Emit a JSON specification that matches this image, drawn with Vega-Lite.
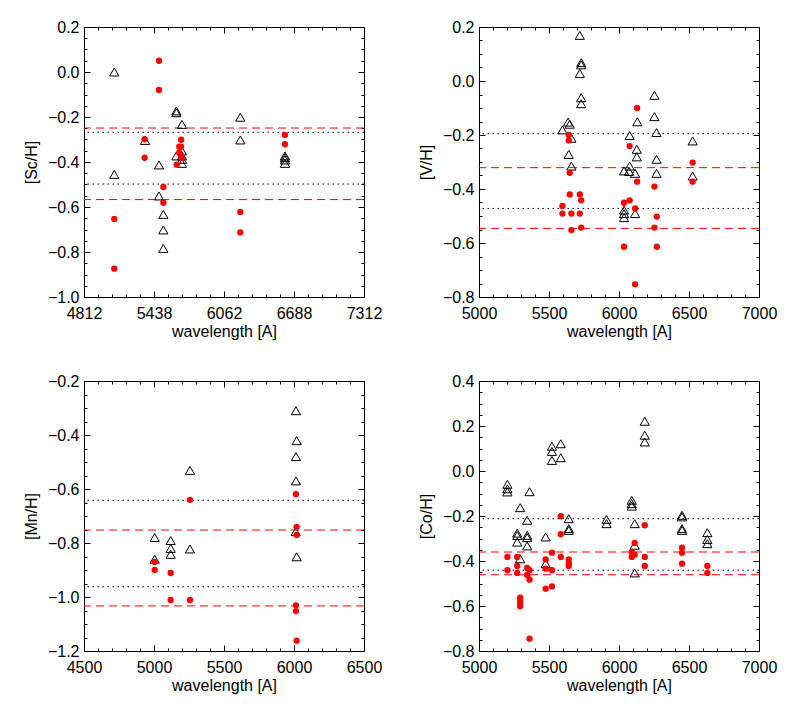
{
"$schema": "https://vega.github.io/schema/vega-lite/v6.json",
"padding": {"left": 22, "top": 18, "right": 5, "bottom": 5},
"background": "white",
"config": {
  "view": {"stroke": "black", "strokeWidth": 1},
  "axis": {"labelFont": "Liberation Sans", "labelFontSize": 16, "titleFont": "Liberation Sans", "titleFontSize": 16, "titleFontWeight": "normal", "labelColor": "black", "titleColor": "black", "tickColor": "black", "tickWidth": 1, "tickSize": -6, "labelPadding": 11, "labelFlush": false, "labelOverlap": false, "grid": false, "domain": false, "titlePadding": 8},
  "axisX": {"labelPadding": 14, "titlePadding": 2}
},
"datasets": {
"sc": [
{"wl":5083,"ab":0.0,"set":"A"},{"wl":5083,"ab":-0.455,"set":"A"},{"wl":5357,"ab":-0.304,"set":"A"},{"wl":5482,"ab":-0.413,"set":"A"},{"wl":5482,"ab":-0.551,"set":"A"},{"wl":5521,"ab":-0.633,"set":"A"},{"wl":5521,"ab":-0.702,"set":"A"},{"wl":5521,"ab":-0.784,"set":"A"},{"wl":5637,"ab":-0.173,"set":"A"},{"wl":5637,"ab":-0.181,"set":"A"},{"wl":5687,"ab":-0.233,"set":"A"},{"wl":5637,"ab":-0.373,"set":"A"},{"wl":5687,"ab":-0.351,"set":"A"},{"wl":5687,"ab":-0.373,"set":"A"},{"wl":5687,"ab":-0.388,"set":"A"},{"wl":5687,"ab":-0.406,"set":"A"},{"wl":6208,"ab":-0.201,"set":"A"},{"wl":6208,"ab":-0.302,"set":"A"},{"wl":6607,"ab":-0.373,"set":"A"},{"wl":6607,"ab":-0.381,"set":"A"},{"wl":6607,"ab":-0.391,"set":"A"},{"wl":6607,"ab":-0.406,"set":"A"},
{"wl":5083,"ab":-0.653,"set":"B"},{"wl":5083,"ab":-0.874,"set":"B"},{"wl":5354,"ab":-0.299,"set":"B"},{"wl":5354,"ab":-0.381,"set":"B"},{"wl":5482,"ab":0.05,"set":"B"},{"wl":5482,"ab":-0.08,"set":"B"},{"wl":5521,"ab":-0.511,"set":"B"},{"wl":5521,"ab":-0.581,"set":"B"},{"wl":5680,"ab":-0.301,"set":"B"},{"wl":5680,"ab":-0.332,"set":"B"},{"wl":5663,"ab":-0.332,"set":"B"},{"wl":5663,"ab":-0.359,"set":"B"},{"wl":5680,"ab":-0.373,"set":"B"},{"wl":5685,"ab":-0.382,"set":"B"},{"wl":5640,"ab":-0.412,"set":"B"},{"wl":6208,"ab":-0.622,"set":"B"},{"wl":6208,"ab":-0.713,"set":"B"},{"wl":6607,"ab":-0.28,"set":"B"},{"wl":6607,"ab":-0.321,"set":"B"}
],
"scl": [{"ab":-0.249,"set":"B"},{"ab":-0.268,"set":"A"},{"ab":-0.498,"set":"A"},{"ab":-0.567,"set":"B"}],
"v": [
{"wl":5720,"ab":0.169,"set":"A"},{"wl":5730,"ab":0.068,"set":"A"},{"wl":5730,"ab":0.06,"set":"A"},{"wl":5720,"ab":0.028,"set":"A"},{"wl":5730,"ab":-0.062,"set":"A"},{"wl":5730,"ab":-0.084,"set":"A"},{"wl":5636,"ab":-0.152,"set":"A"},{"wl":5648,"ab":-0.16,"set":"A"},{"wl":5596,"ab":-0.181,"set":"A"},{"wl":5660,"ab":-0.212,"set":"A"},{"wl":5641,"ab":-0.272,"set":"A"},{"wl":5660,"ab":-0.315,"set":"A"},{"wl":6076,"ab":-0.202,"set":"A"},{"wl":6036,"ab":-0.333,"set":"A"},{"wl":6076,"ab":-0.315,"set":"A"},{"wl":6072,"ab":-0.335,"set":"A"},{"wl":6115,"ab":-0.342,"set":"A"},{"wl":6127,"ab":-0.253,"set":"A"},{"wl":6127,"ab":-0.281,"set":"A"},{"wl":6131,"ab":-0.151,"set":"A"},{"wl":6036,"ab":-0.478,"set":"A"},{"wl":6036,"ab":-0.491,"set":"A"},{"wl":6036,"ab":-0.506,"set":"A"},{"wl":6115,"ab":-0.491,"set":"A"},{"wl":6253,"ab":-0.053,"set":"A"},{"wl":6253,"ab":-0.132,"set":"A"},{"wl":6268,"ab":-0.191,"set":"A"},{"wl":6268,"ab":-0.29,"set":"A"},{"wl":6268,"ab":-0.342,"set":"A"},{"wl":6526,"ab":-0.222,"set":"A"},{"wl":6526,"ab":-0.352,"set":"A"},
{"wl":5641,"ab":-0.2,"set":"B"},{"wl":5641,"ab":-0.22,"set":"B"},{"wl":5648,"ab":-0.34,"set":"B"},{"wl":5648,"ab":-0.42,"set":"B"},{"wl":5596,"ab":-0.463,"set":"B"},{"wl":5596,"ab":-0.491,"set":"B"},{"wl":5660,"ab":-0.491,"set":"B"},{"wl":5660,"ab":-0.552,"set":"B"},{"wl":5720,"ab":-0.42,"set":"B"},{"wl":5730,"ab":-0.442,"set":"B"},{"wl":5720,"ab":-0.491,"set":"B"},{"wl":5730,"ab":-0.543,"set":"B"},{"wl":6129,"ab":-0.1,"set":"B"},{"wl":6076,"ab":-0.241,"set":"B"},{"wl":6129,"ab":-0.373,"set":"B"},{"wl":6036,"ab":-0.451,"set":"B"},{"wl":6076,"ab":-0.442,"set":"B"},{"wl":6115,"ab":-0.472,"set":"B"},{"wl":6036,"ab":-0.614,"set":"B"},{"wl":6115,"ab":-0.753,"set":"B"},{"wl":6253,"ab":-0.391,"set":"B"},{"wl":6270,"ab":-0.502,"set":"B"},{"wl":6253,"ab":-0.543,"set":"B"},{"wl":6270,"ab":-0.614,"set":"B"},{"wl":6526,"ab":-0.302,"set":"B"},{"wl":6526,"ab":-0.373,"set":"B"}
],
"vl": [{"ab":-0.195,"set":"A"},{"ab":-0.321,"set":"B"},{"ab":-0.472,"set":"A"},{"ab":-0.546,"set":"B"}],
"mn": [
{"wl":6014,"ab":-0.31,"set":"A"},{"wl":6019,"ab":-0.421,"set":"A"},{"wl":6014,"ab":-0.48,"set":"A"},{"wl":6014,"ab":-0.57,"set":"A"},{"wl":6019,"ab":-0.851,"set":"A"},{"wl":6012,"ab":-0.758,"set":"A"},{"wl":5257,"ab":-0.531,"set":"A"},{"wl":5257,"ab":-0.822,"set":"A"},{"wl":5005,"ab":-0.78,"set":"A"},{"wl":5005,"ab":-0.86,"set":"A"},{"wl":5119,"ab":-0.791,"set":"A"},{"wl":5119,"ab":-0.82,"set":"A"},{"wl":5119,"ab":-0.842,"set":"A"},
{"wl":5005,"ab":-0.87,"set":"B"},{"wl":5005,"ab":-0.9,"set":"B"},{"wl":5119,"ab":-0.911,"set":"B"},{"wl":5119,"ab":-1.011,"set":"B"},{"wl":5257,"ab":-0.64,"set":"B"},{"wl":5257,"ab":-1.011,"set":"B"},{"wl":6014,"ab":-0.619,"set":"B"},{"wl":6019,"ab":-0.74,"set":"B"},{"wl":6019,"ab":-0.77,"set":"B"},{"wl":6014,"ab":-1.031,"set":"B"},{"wl":6014,"ab":-1.052,"set":"B"},{"wl":6019,"ab":-1.162,"set":"B"}
],
"mnl": [{"ab":-0.642,"set":"A"},{"ab":-0.752,"set":"B"},{"ab":-0.962,"set":"A"},{"ab":-1.033,"set":"B"}],
"co": [
{"wl":5203,"ab":-0.059,"set":"A"},{"wl":5203,"ab":-0.079,"set":"A"},{"wl":5203,"ab":-0.093,"set":"A"},{"wl":5294,"ab":-0.163,"set":"A"},{"wl":5273,"ab":-0.276,"set":"A"},{"wl":5273,"ab":-0.287,"set":"A"},{"wl":5273,"ab":-0.316,"set":"A"},{"wl":5294,"ab":-0.39,"set":"A"},{"wl":5344,"ab":-0.219,"set":"A"},{"wl":5344,"ab":-0.286,"set":"A"},{"wl":5344,"ab":-0.296,"set":"A"},{"wl":5344,"ab":-0.333,"set":"A"},{"wl":5361,"ab":-0.092,"set":"A"},{"wl":5476,"ab":-0.293,"set":"A"},{"wl":5476,"ab":-0.412,"set":"A"},{"wl":5521,"ab":0.11,"set":"A"},{"wl":5521,"ab":0.087,"set":"A"},{"wl":5521,"ab":0.047,"set":"A"},{"wl":5584,"ab":0.121,"set":"A"},{"wl":5584,"ab":0.059,"set":"A"},{"wl":5641,"ab":-0.212,"set":"A"},{"wl":5641,"ab":-0.256,"set":"A"},{"wl":5641,"ab":-0.264,"set":"A"},{"wl":5911,"ab":-0.215,"set":"A"},{"wl":5911,"ab":-0.234,"set":"A"},{"wl":6091,"ab":-0.13,"set":"A"},{"wl":6091,"ab":-0.145,"set":"A"},{"wl":6091,"ab":-0.156,"set":"A"},{"wl":6112,"ab":-0.234,"set":"A"},{"wl":6112,"ab":-0.33,"set":"A"},{"wl":6112,"ab":-0.453,"set":"A"},{"wl":6184,"ab":0.221,"set":"A"},{"wl":6184,"ab":0.159,"set":"A"},{"wl":6184,"ab":0.129,"set":"A"},{"wl":6450,"ab":-0.197,"set":"A"},{"wl":6450,"ab":-0.204,"set":"A"},{"wl":6450,"ab":-0.256,"set":"A"},{"wl":6450,"ab":-0.264,"set":"A"},{"wl":6631,"ab":-0.274,"set":"A"},{"wl":6631,"ab":-0.304,"set":"A"},{"wl":6631,"ab":-0.323,"set":"A"},
{"wl":5203,"ab":-0.382,"set":"B"},{"wl":5203,"ab":-0.441,"set":"B"},{"wl":5273,"ab":-0.382,"set":"B"},{"wl":5273,"ab":-0.422,"set":"B"},{"wl":5273,"ab":-0.453,"set":"B"},{"wl":5294,"ab":-0.563,"set":"B"},{"wl":5294,"ab":-0.578,"set":"B"},{"wl":5294,"ab":-0.59,"set":"B"},{"wl":5294,"ab":-0.601,"set":"B"},{"wl":5344,"ab":-0.431,"set":"B"},{"wl":5344,"ab":-0.462,"set":"B"},{"wl":5361,"ab":-0.441,"set":"B"},{"wl":5361,"ab":-0.483,"set":"B"},{"wl":5361,"ab":-0.745,"set":"B"},{"wl":5476,"ab":-0.393,"set":"B"},{"wl":5476,"ab":-0.434,"set":"B"},{"wl":5476,"ab":-0.523,"set":"B"},{"wl":5521,"ab":-0.363,"set":"B"},{"wl":5521,"ab":-0.441,"set":"B"},{"wl":5521,"ab":-0.513,"set":"B"},{"wl":5584,"ab":-0.201,"set":"B"},{"wl":5584,"ab":-0.281,"set":"B"},{"wl":5584,"ab":-0.382,"set":"B"},{"wl":5641,"ab":-0.393,"set":"B"},{"wl":5641,"ab":-0.412,"set":"B"},{"wl":5641,"ab":-0.422,"set":"B"},{"wl":6112,"ab":-0.32,"set":"B"},{"wl":6091,"ab":-0.36,"set":"B"},{"wl":6091,"ab":-0.382,"set":"B"},{"wl":6112,"ab":-0.372,"set":"B"},{"wl":6184,"ab":-0.241,"set":"B"},{"wl":6184,"ab":-0.382,"set":"B"},{"wl":6184,"ab":-0.422,"set":"B"},{"wl":6450,"ab":-0.341,"set":"B"},{"wl":6450,"ab":-0.363,"set":"B"},{"wl":6450,"ab":-0.412,"set":"B"},{"wl":6631,"ab":-0.422,"set":"B"},{"wl":6631,"ab":-0.453,"set":"B"}
],
"col": [{"ab":-0.212,"set":"A"},{"ab":-0.36,"set":"B"},{"ab":-0.441,"set":"A"},{"ab":-0.461,"set":"B"}]
},
"columns": 2,
"bounds": "flush",
"spacing": {"row": 84, "column": 115},
"concat": [
{
 "width": 280, "height": 270,
 "layer": [
  {"data": {"name": "scl"}, "mark": {"type": "rule", "strokeWidth": 1},
   "encoding": {
    "y": {"field": "ab", "type": "quantitative", "scale": {"domain": [-1.0, 0.2], "nice": false, "zero": false}, "axis": {"orient": "left", "values": [-1.0, -0.8, -0.6, -0.4, -0.2, 0.0, 0.2], "format": ".1f", "title": "[Sc/H]"}},
    "color": {"field": "set", "type": "nominal", "scale": {"domain": ["A", "B"], "range": ["black", "red"]}, "legend": null},
    "strokeDash": {"field": "set", "type": "nominal", "scale": {"domain": ["A", "B"], "range": [[1.5, 3.5], [8, 5]]}, "legend": null}}},
  {"data": {"name": "sc"}, "transform": [{"filter": "datum.set === 'A'"}], "mark": {"type": "point", "shape": "triangle-up", "filled": false, "stroke": "black", "strokeWidth": 1, "size": 85, "opacity": 1},
   "encoding": {
    "x": {"field": "wl", "type": "quantitative", "scale": {"domain": [4812.5, 7312.5], "nice": false, "zero": false}, "axis": {"orient": "bottom", "values": [4812.5, 5437.5, 6062.5, 6687.5, 7312.5], "labelExpr": "format(floor(datum.value) + floor(datum.value) % 2, 'd')", "title": "wavelength [A]"}},
    "y": {"field": "ab", "type": "quantitative", "scale": {"domain": [-1.0, 0.2], "nice": false, "zero": false}, "axis": {"orient": "right", "values": [-1.0, -0.8, -0.6, -0.4, -0.2, 0.0, 0.2], "labels": false, "title": null}}}},
  {"data": {"name": "sc"}, "transform": [{"filter": "datum.set === 'B'"}], "mark": {"type": "circle", "color": "red", "size": 40, "opacity": 1},
   "encoding": {
    "x": {"field": "wl", "type": "quantitative", "scale": {"domain": [4812.5, 7312.5], "nice": false, "zero": false}, "axis": {"orient": "top", "values": [4812.5, 5437.5, 6062.5, 6687.5, 7312.5], "labels": false, "title": null}},
    "y": {"field": "ab", "type": "quantitative", "scale": {"domain": [-1.0, 0.2], "nice": false, "zero": false}, "axis": {"orient": "left", "values": [-1.0,-0.95,-0.9,-0.85,-0.8,-0.75,-0.7,-0.65,-0.6,-0.55,-0.5,-0.45,-0.4,-0.35,-0.3,-0.25,-0.2,-0.15,-0.1,-0.05,0.0,0.05,0.1,0.15,0.2], "tickSize": -3, "labels": false, "title": null}}}},
  {"data": {"name": "sc"}, "mark": {"type": "point", "opacity": 0},
   "encoding": {
    "x": {"field": "wl", "type": "quantitative", "scale": {"domain": [4812.5, 7312.5], "nice": false, "zero": false}, "axis": {"orient": "bottom", "values": [4812.5,4937.5,5062.5,5187.5,5312.5,5437.5,5562.5,5687.5,5812.5,5937.5,6062.5,6187.5,6312.5,6437.5,6562.5,6687.5,6812.5,6937.5,7062.5,7187.5,7312.5], "tickSize": -3, "labels": false, "title": null}},
    "y": {"field": "ab", "type": "quantitative", "scale": {"domain": [-1.0, 0.2], "nice": false, "zero": false}, "axis": {"orient": "right", "values": [-1.0,-0.95,-0.9,-0.85,-0.8,-0.75,-0.7,-0.65,-0.6,-0.55,-0.5,-0.45,-0.4,-0.35,-0.3,-0.25,-0.2,-0.15,-0.1,-0.05,0.0,0.05,0.1,0.15,0.2], "tickSize": -3, "labels": false, "title": null}}}},
  {"data": {"name": "sc"}, "mark": {"type": "point", "opacity": 0},
   "encoding": {
    "x": {"field": "wl", "type": "quantitative", "scale": {"domain": [4812.5, 7312.5], "nice": false, "zero": false}, "axis": {"orient": "top", "values": [4812.5,4937.5,5062.5,5187.5,5312.5,5437.5,5562.5,5687.5,5812.5,5937.5,6062.5,6187.5,6312.5,6437.5,6562.5,6687.5,6812.5,6937.5,7062.5,7187.5,7312.5], "tickSize": -3, "labels": false, "title": null}},
    "y": {"field": "ab", "type": "quantitative", "scale": {"domain": [-1.0, 0.2], "nice": false, "zero": false}, "axis": null}}}
 ],
 "resolve": {"scale": {"x": "independent", "y": "independent"}, "axis": {"x": "independent", "y": "independent"}}
},
{
 "width": 280, "height": 270,
 "layer": [
  {"data": {"name": "vl"}, "mark": {"type": "rule", "strokeWidth": 1},
   "encoding": {
    "y": {"field": "ab", "type": "quantitative", "scale": {"domain": [-0.8, 0.2], "nice": false, "zero": false}, "axis": {"orient": "left", "values": [-0.8, -0.6, -0.4, -0.2, 0.0, 0.2], "format": ".1f", "title": "[V/H]"}},
    "color": {"field": "set", "type": "nominal", "scale": {"domain": ["A", "B"], "range": ["black", "red"]}, "legend": null},
    "strokeDash": {"field": "set", "type": "nominal", "scale": {"domain": ["A", "B"], "range": [[1.5, 3.5], [8, 5]]}, "legend": null}}},
  {"data": {"name": "v"}, "transform": [{"filter": "datum.set === 'A'"}], "mark": {"type": "point", "shape": "triangle-up", "filled": false, "stroke": "black", "strokeWidth": 1, "size": 85, "opacity": 1},
   "encoding": {
    "x": {"field": "wl", "type": "quantitative", "scale": {"domain": [5000, 7000], "nice": false, "zero": false}, "axis": {"orient": "bottom", "values": [5000, 5500, 6000, 6500, 7000], "format": "d", "title": "wavelength [A]"}},
    "y": {"field": "ab", "type": "quantitative", "scale": {"domain": [-0.8, 0.2], "nice": false, "zero": false}, "axis": {"orient": "right", "values": [-0.8, -0.6, -0.4, -0.2, 0.0, 0.2], "labels": false, "title": null}}}},
  {"data": {"name": "v"}, "transform": [{"filter": "datum.set === 'B'"}], "mark": {"type": "circle", "color": "red", "size": 40, "opacity": 1},
   "encoding": {
    "x": {"field": "wl", "type": "quantitative", "scale": {"domain": [5000, 7000], "nice": false, "zero": false}, "axis": {"orient": "top", "values": [5000, 5500, 6000, 6500, 7000], "labels": false, "title": null}},
    "y": {"field": "ab", "type": "quantitative", "scale": {"domain": [-0.8, 0.2], "nice": false, "zero": false}, "axis": {"orient": "left", "values": [-0.8,-0.75,-0.7,-0.65,-0.6,-0.55,-0.5,-0.45,-0.4,-0.35,-0.3,-0.25,-0.2,-0.15,-0.1,-0.05,0.0,0.05,0.1,0.15,0.2], "tickSize": -3, "labels": false, "title": null}}}},
  {"data": {"name": "v"}, "mark": {"type": "point", "opacity": 0},
   "encoding": {
    "x": {"field": "wl", "type": "quantitative", "scale": {"domain": [5000, 7000], "nice": false, "zero": false}, "axis": {"orient": "bottom", "values": [5000,5100,5200,5300,5400,5500,5600,5700,5800,5900,6000,6100,6200,6300,6400,6500,6600,6700,6800,6900,7000], "tickSize": -3, "labels": false, "title": null}},
    "y": {"field": "ab", "type": "quantitative", "scale": {"domain": [-0.8, 0.2], "nice": false, "zero": false}, "axis": {"orient": "right", "values": [-0.8,-0.75,-0.7,-0.65,-0.6,-0.55,-0.5,-0.45,-0.4,-0.35,-0.3,-0.25,-0.2,-0.15,-0.1,-0.05,0.0,0.05,0.1,0.15,0.2], "tickSize": -3, "labels": false, "title": null}}}},
  {"data": {"name": "v"}, "mark": {"type": "point", "opacity": 0},
   "encoding": {
    "x": {"field": "wl", "type": "quantitative", "scale": {"domain": [5000, 7000], "nice": false, "zero": false}, "axis": {"orient": "top", "values": [5000,5100,5200,5300,5400,5500,5600,5700,5800,5900,6000,6100,6200,6300,6400,6500,6600,6700,6800,6900,7000], "tickSize": -3, "labels": false, "title": null}},
    "y": {"field": "ab", "type": "quantitative", "scale": {"domain": [-0.8, 0.2], "nice": false, "zero": false}, "axis": null}}}
 ],
 "resolve": {"scale": {"x": "independent", "y": "independent"}, "axis": {"x": "independent", "y": "independent"}}
},
{
 "width": 280, "height": 270,
 "layer": [
  {"data": {"name": "mnl"}, "mark": {"type": "rule", "strokeWidth": 1},
   "encoding": {
    "y": {"field": "ab", "type": "quantitative", "scale": {"domain": [-1.2, -0.2], "nice": false, "zero": false}, "axis": {"orient": "left", "values": [-1.2, -1.0, -0.8, -0.6, -0.4, -0.2], "format": ".1f", "title": "[Mn/H]"}},
    "color": {"field": "set", "type": "nominal", "scale": {"domain": ["A", "B"], "range": ["black", "red"]}, "legend": null},
    "strokeDash": {"field": "set", "type": "nominal", "scale": {"domain": ["A", "B"], "range": [[1.5, 3.5], [8, 5]]}, "legend": null}}},
  {"data": {"name": "mn"}, "transform": [{"filter": "datum.set === 'A'"}], "mark": {"type": "point", "shape": "triangle-up", "filled": false, "stroke": "black", "strokeWidth": 1, "size": 85, "opacity": 1},
   "encoding": {
    "x": {"field": "wl", "type": "quantitative", "scale": {"domain": [4500, 6500], "nice": false, "zero": false}, "axis": {"orient": "bottom", "values": [4500, 5000, 5500, 6000, 6500], "format": "d", "title": "wavelength [A]"}},
    "y": {"field": "ab", "type": "quantitative", "scale": {"domain": [-1.2, -0.2], "nice": false, "zero": false}, "axis": {"orient": "right", "values": [-1.2, -1.0, -0.8, -0.6, -0.4, -0.2], "labels": false, "title": null}}}},
  {"data": {"name": "mn"}, "transform": [{"filter": "datum.set === 'B'"}], "mark": {"type": "circle", "color": "red", "size": 40, "opacity": 1},
   "encoding": {
    "x": {"field": "wl", "type": "quantitative", "scale": {"domain": [4500, 6500], "nice": false, "zero": false}, "axis": {"orient": "top", "values": [4500, 5000, 5500, 6000, 6500], "labels": false, "title": null}},
    "y": {"field": "ab", "type": "quantitative", "scale": {"domain": [-1.2, -0.2], "nice": false, "zero": false}, "axis": {"orient": "left", "values": [-1.2,-1.15,-1.1,-1.05,-1.0,-0.95,-0.9,-0.85,-0.8,-0.75,-0.7,-0.65,-0.6,-0.55,-0.5,-0.45,-0.4,-0.35,-0.3,-0.25,-0.2], "tickSize": -3, "labels": false, "title": null}}}},
  {"data": {"name": "mn"}, "mark": {"type": "point", "opacity": 0},
   "encoding": {
    "x": {"field": "wl", "type": "quantitative", "scale": {"domain": [4500, 6500], "nice": false, "zero": false}, "axis": {"orient": "bottom", "values": [4500,4600,4700,4800,4900,5000,5100,5200,5300,5400,5500,5600,5700,5800,5900,6000,6100,6200,6300,6400,6500], "tickSize": -3, "labels": false, "title": null}},
    "y": {"field": "ab", "type": "quantitative", "scale": {"domain": [-1.2, -0.2], "nice": false, "zero": false}, "axis": {"orient": "right", "values": [-1.2,-1.15,-1.1,-1.05,-1.0,-0.95,-0.9,-0.85,-0.8,-0.75,-0.7,-0.65,-0.6,-0.55,-0.5,-0.45,-0.4,-0.35,-0.3,-0.25,-0.2], "tickSize": -3, "labels": false, "title": null}}}},
  {"data": {"name": "mn"}, "mark": {"type": "point", "opacity": 0},
   "encoding": {
    "x": {"field": "wl", "type": "quantitative", "scale": {"domain": [4500, 6500], "nice": false, "zero": false}, "axis": {"orient": "top", "values": [4500,4600,4700,4800,4900,5000,5100,5200,5300,5400,5500,5600,5700,5800,5900,6000,6100,6200,6300,6400,6500], "tickSize": -3, "labels": false, "title": null}},
    "y": {"field": "ab", "type": "quantitative", "scale": {"domain": [-1.2, -0.2], "nice": false, "zero": false}, "axis": null}}}
 ],
 "resolve": {"scale": {"x": "independent", "y": "independent"}, "axis": {"x": "independent", "y": "independent"}}
},
{
 "width": 280, "height": 270,
 "layer": [
  {"data": {"name": "col"}, "mark": {"type": "rule", "strokeWidth": 1},
   "encoding": {
    "y": {"field": "ab", "type": "quantitative", "scale": {"domain": [-0.8, 0.4], "nice": false, "zero": false}, "axis": {"orient": "left", "values": [-0.8, -0.6, -0.4, -0.2, 0.0, 0.2, 0.4], "format": ".1f", "title": "[Co/H]"}},
    "color": {"field": "set", "type": "nominal", "scale": {"domain": ["A", "B"], "range": ["black", "red"]}, "legend": null},
    "strokeDash": {"field": "set", "type": "nominal", "scale": {"domain": ["A", "B"], "range": [[1.5, 3.5], [8, 5]]}, "legend": null}}},
  {"data": {"name": "co"}, "transform": [{"filter": "datum.set === 'A'"}], "mark": {"type": "point", "shape": "triangle-up", "filled": false, "stroke": "black", "strokeWidth": 1, "size": 85, "opacity": 1},
   "encoding": {
    "x": {"field": "wl", "type": "quantitative", "scale": {"domain": [5000, 7000], "nice": false, "zero": false}, "axis": {"orient": "bottom", "values": [5000, 5500, 6000, 6500, 7000], "format": "d", "title": "wavelength [A]"}},
    "y": {"field": "ab", "type": "quantitative", "scale": {"domain": [-0.8, 0.4], "nice": false, "zero": false}, "axis": {"orient": "right", "values": [-0.8, -0.6, -0.4, -0.2, 0.0, 0.2, 0.4], "labels": false, "title": null}}}},
  {"data": {"name": "co"}, "transform": [{"filter": "datum.set === 'B'"}], "mark": {"type": "circle", "color": "red", "size": 40, "opacity": 1},
   "encoding": {
    "x": {"field": "wl", "type": "quantitative", "scale": {"domain": [5000, 7000], "nice": false, "zero": false}, "axis": {"orient": "top", "values": [5000, 5500, 6000, 6500, 7000], "labels": false, "title": null}},
    "y": {"field": "ab", "type": "quantitative", "scale": {"domain": [-0.8, 0.4], "nice": false, "zero": false}, "axis": {"orient": "left", "values": [-0.8,-0.75,-0.7,-0.65,-0.6,-0.55,-0.5,-0.45,-0.4,-0.35,-0.3,-0.25,-0.2,-0.15,-0.1,-0.05,0.0,0.05,0.1,0.15,0.2,0.25,0.3,0.35,0.4], "tickSize": -3, "labels": false, "title": null}}}},
  {"data": {"name": "co"}, "mark": {"type": "point", "opacity": 0},
   "encoding": {
    "x": {"field": "wl", "type": "quantitative", "scale": {"domain": [5000, 7000], "nice": false, "zero": false}, "axis": {"orient": "bottom", "values": [5000,5100,5200,5300,5400,5500,5600,5700,5800,5900,6000,6100,6200,6300,6400,6500,6600,6700,6800,6900,7000], "tickSize": -3, "labels": false, "title": null}},
    "y": {"field": "ab", "type": "quantitative", "scale": {"domain": [-0.8, 0.4], "nice": false, "zero": false}, "axis": {"orient": "right", "values": [-0.8,-0.75,-0.7,-0.65,-0.6,-0.55,-0.5,-0.45,-0.4,-0.35,-0.3,-0.25,-0.2,-0.15,-0.1,-0.05,0.0,0.05,0.1,0.15,0.2,0.25,0.3,0.35,0.4], "tickSize": -3, "labels": false, "title": null}}}},
  {"data": {"name": "co"}, "mark": {"type": "point", "opacity": 0},
   "encoding": {
    "x": {"field": "wl", "type": "quantitative", "scale": {"domain": [5000, 7000], "nice": false, "zero": false}, "axis": {"orient": "top", "values": [5000,5100,5200,5300,5400,5500,5600,5700,5800,5900,6000,6100,6200,6300,6400,6500,6600,6700,6800,6900,7000], "tickSize": -3, "labels": false, "title": null}},
    "y": {"field": "ab", "type": "quantitative", "scale": {"domain": [-0.8, 0.4], "nice": false, "zero": false}, "axis": null}}}
 ],
 "resolve": {"scale": {"x": "independent", "y": "independent"}, "axis": {"x": "independent", "y": "independent"}}
}
]
}
